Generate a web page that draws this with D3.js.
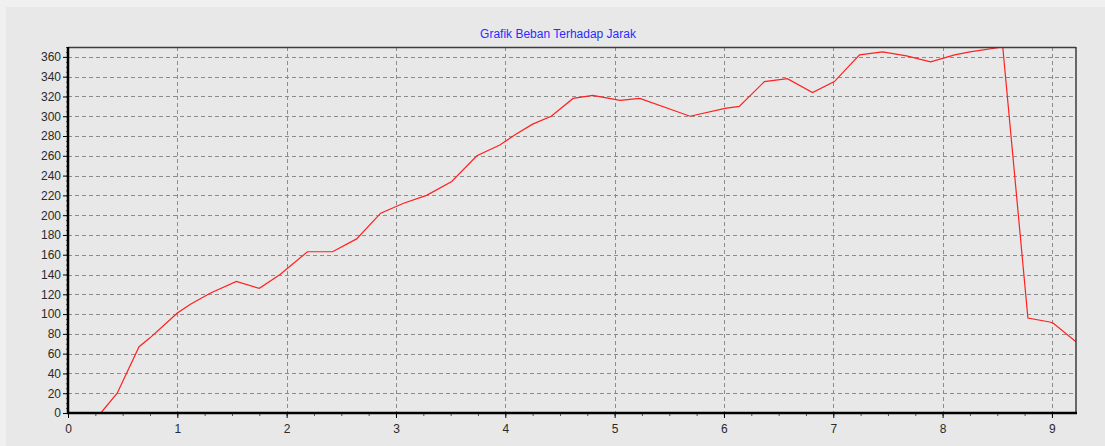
<!DOCTYPE html>
<html>
<head>
<meta charset="utf-8">
<script src="https://cdn.jsdelivr.net/npm/d3@7"></script>
<style>
  html, body { margin: 0; padding: 0; background: #f0f0f0; }
  #chart-container { width: 1105px; height: 446px; }
  .grid line { stroke: #8c8c8c; stroke-dasharray: 4,3; }
  .axis text { font-family: "Liberation Sans", Arial, sans-serif; font-size: 12px; fill: #2a2a2a; }
</style>
</head>
<body>
<div id="chart-container"></div>
<script>
// jarak (x) dan beban (y)
let jarak = [0.30, 0.45, 0.65, 0.75, 0.88, 1.00, 1.12, 1.30, 1.54, 1.75, 1.94, 2.19, 2.42, 2.64, 2.86, 3.07, 3.28, 3.51, 3.74, 3.95, 4.10, 4.25, 4.42, 4.62, 4.80, 5.00, 5.05, 5.23, 5.69, 6.01, 6.14, 6.37, 6.58, 6.81, 7.01, 7.24, 7.45, 7.67, 7.89, 8.11, 8.25, 8.55, 8.78, 8.98, 9.01, 9.22];
let beban = [0, 20, 67, 76, 89, 101, 110, 121, 133, 126, 140, 163, 163, 176, 202, 212, 220, 234, 260, 271, 282, 292, 300, 318, 321, 317, 316, 318, 300, 308, 310, 335, 338, 324, 335, 362, 365, 361, 355, 362, 365, 370, 96, 92, 91, 72];

let xTicks = [0, 1, 2, 3, 4, 5, 6, 7, 8, 9];
let yTicks = [0, 20, 40, 60, 80, 100, 120, 140, 160, 180, 200, 220, 240, 260, 280, 300, 320, 340, 360];
let judul = 'Grafik Beban Terhadap Jarak';

function createLineChart() {
	let canvasWidth		= 1105;
	let canvasHeight	= 446;

	let margin			= { top: 47, right: 29, bottom: 33, left: 68 };
	let width			= canvasWidth - margin.left - margin.right;
	let height			= canvasHeight - margin.top - margin.bottom;

	let x				= d3.scaleLinear().domain([0, 9.22]).range([0, width]);
	let y				= d3.scaleLinear().domain([0, 370]).range([height, 0]);

	let root = d3.select('#chart-container').append('svg')
			.attr('width', canvasWidth)
			.attr('height', canvasHeight);

	// panel abu-abu
	root.append('rect')
		.attr('x', 6).attr('y', 7)
		.attr('width', canvasWidth - 6).attr('height', canvasHeight - 7)
		.attr('fill', '#e8e8e8');

	root.append('text')
		.attr('x', 558)
		.attr('y', 38)
		.attr('text-anchor', 'middle')
		.style('font-family', '"Liberation Sans", Arial, sans-serif')
		.style('font-size', '12px')
		.attr('fill', '#2b2bff')
		.text(judul);

	let svg = root.append('g')
			.attr('transform', 'translate(' + margin.left + ',' + margin.top + ')');

	// grid
	svg.append('g').attr('class', 'grid')
		.selectAll('line').data(yTicks.filter((o) => o > 0))
		.enter().append('line')
			.attr('x1', 0).attr('x2', width)
			.attr('y1', (o) => Math.round(y(o)) + 0.5)
			.attr('y2', (o) => Math.round(y(o)) + 0.5);

	svg.append('g').attr('class', 'grid')
		.selectAll('line').data(xTicks.filter((o) => o > 0))
		.enter().append('line')
			.attr('y1', 0).attr('y2', height)
			.attr('x1', (o) => Math.round(x(o)) + 0.5)
			.attr('x2', (o) => Math.round(x(o)) + 0.5);

	// garis data
	let points = jarak.map((o, i) => ({ jarak: o, beban: beban[i] }));

	svg.append('clipPath').attr('id', 'clip')
		.append('rect').attr('width', width).attr('height', height);

	svg.append('path')
		.datum(points)
		.attr('clip-path', 'url(#clip)')
		.attr('fill', 'none')
		.attr('stroke', '#ff2020')
		.attr('stroke-width', 1.2)
		.attr('d', d3.line().x((o) => x(o.jarak)).y((o) => y(o.beban)));

	// minor ticks
	svg.append('g')
		.attr('transform', 'translate(0,' + height + ')')
		.call(d3.axisBottom(x).tickValues(d3.range(0, 9.22, 0.25)).tickSize(3).tickFormat(''))
		.call((g) => g.select('.domain').remove())
		.selectAll('line').attr('stroke', '#555');

	svg.append('g')
		.call(d3.axisLeft(y).tickValues(d3.range(0, 371, 5)).tickSize(2).tickFormat(''))
		.call((g) => g.select('.domain').remove())
		.selectAll('line').attr('stroke', '#555');

	// sumbu utama
	svg.append('g')
		.attr('class', 'axis')
		.attr('transform', 'translate(0,' + height + ')')
		.call(d3.axisBottom(x).tickValues(xTicks).tickSize(5).tickPadding(6).tickFormat(d3.format('d')))
		.call((g) => g.select('.domain').remove());

	svg.append('g')
		.attr('class', 'axis')
		.call(d3.axisLeft(y).tickValues(yTicks).tickSize(5).tickPadding(2))
		.call((g) => g.select('.domain').remove());

	// bingkai
	svg.append('line')
		.attr('x1', 0).attr('x2', width).attr('y1', 0.5).attr('y2', 0.5)
		.attr('stroke', '#3c3c3c').attr('stroke-width', 1.5);
	svg.append('line')
		.attr('x1', width).attr('x2', width).attr('y1', 0).attr('y2', height)
		.attr('stroke', '#3c3c3c').attr('stroke-width', 1.5);
	svg.append('line')
		.attr('x1', -1).attr('x2', width + 1).attr('y1', height).attr('y2', height)
		.attr('stroke', '#000').attr('stroke-width', 2.5);
	svg.append('line')
		.attr('x1', 0).attr('x2', 0).attr('y1', 0).attr('y2', height + 1)
		.attr('stroke', '#000').attr('stroke-width', 2.5);
}

createLineChart();
</script>
</body>
</html>
